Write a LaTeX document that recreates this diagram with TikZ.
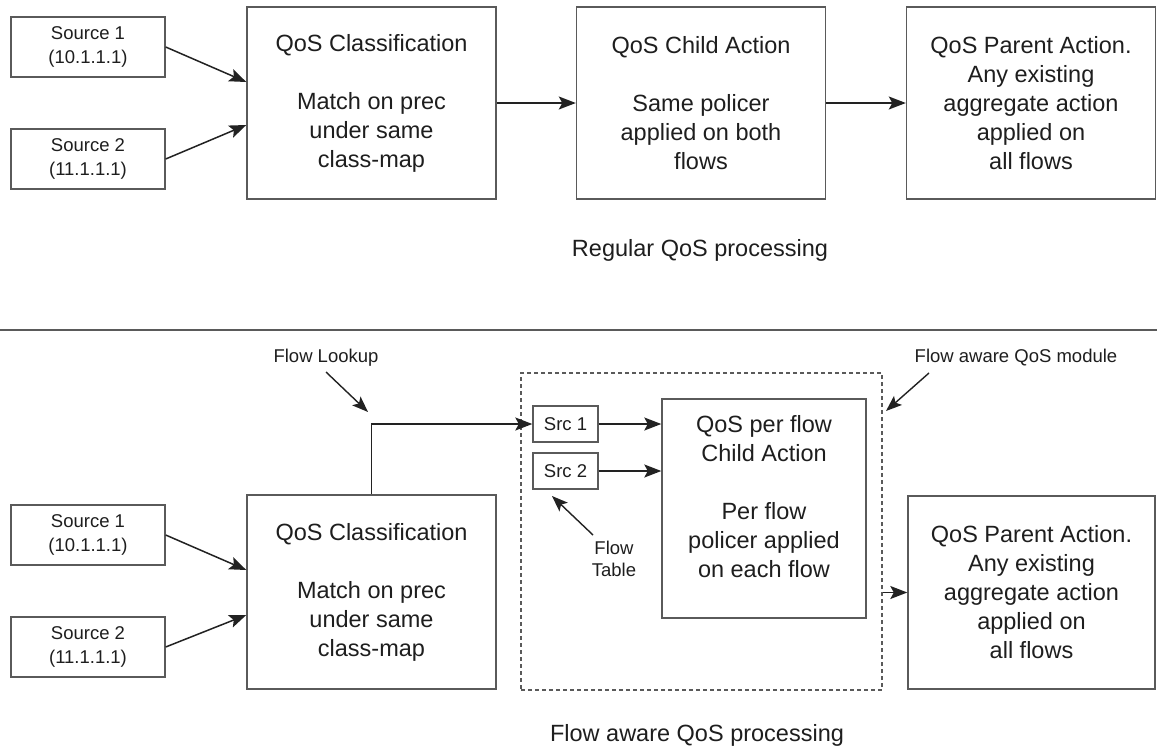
\documentclass[tikz,border=0pt]{standalone}
\usepackage{fontspec}
\setmainfont{Liberation Sans}
\usetikzlibrary{arrows.meta}
\definecolor{boxc}{HTML}{5A5A5A}
\definecolor{txt}{HTML}{1E1E1E}
\definecolor{arrc}{HTML}{222222}
\newcommand\bigf{\fontsize{23.5}{29}\selectfont}
\newcommand\smallf{\fontsize{18.5}{23.5}\selectfont}
\begin{document}
\begin{tikzpicture}[x=1pt,y=-1pt,
  box/.style={draw=boxc, line width=1.4pt, rectangle, inner sep=0pt, align=center, font=\bigf, text=txt},
  srcbox/.style={box, font=\smallf, minimum width=154pt, minimum height=60pt},
  bigbox/.style={box, minimum width=249pt, minimum height=192pt},
  flowbox/.style={box, font=\smallf, minimum width=65pt, minimum height=36pt},
  lbl/.style={font=\smallf, text=txt, align=center, inner sep=0pt},
  caption/.style={font=\bigf, text=txt, inner sep=0pt},
  arr/.style={draw=arrc, line width=1.5pt, -{Stealth[length=17pt,width=13pt,inset=3.5pt]}},
  thin arr/.style={draw=arrc, line width=1.4pt, -{Stealth[length=16pt,width=12pt,inset=3.5pt]}},
  dashbox/.style={draw=boxc, line width=1.1pt, dash pattern=on 4pt off 3pt, rectangle, inner sep=0pt}]
\useasboundingbox (0,0) rectangle (1157,750);
\fill[white] (0,0) rectangle (1157,750);

% ---------- top: regular QoS processing ----------
\node[srcbox] (s1) at (88,47) {Source 1\\(10.1.1.1)};
\node[srcbox] (s2) at (88,159) {Source 2\\(11.1.1.1)};
\node[bigbox] (cls) at (371.5,103) {QoS Classification\\[29pt]Match on prec\\under same\\class-map};
\node[bigbox] (child) at (701,103) {QoS Child Action\\[29pt]Same policer\\applied on both\\flows};
\node[bigbox] (parent) at (1031,103) {QoS Parent Action.\\Any existing\\aggregate action\\applied on\\all flows};
\node[caption] (cap1) at (700,250) {Regular QoS processing};

\draw[arr] (s1.east) -- ([yshift=21pt]cls.west);
\draw[arr] (s2.east) -- ([yshift=-22pt]cls.west);
\draw[arr] (cls.east) -- (child.west);
\draw[arr] (child.east) -- (parent.west);

% separator
\draw[boxc, line width=1.2pt] (0,330) -- (1157,330);

% ---------- bottom: flow aware QoS processing ----------
\node[srcbox] (s1b) at (88,535) {Source 1\\(10.1.1.1)};
\node[srcbox] (s2b) at (88,647) {Source 2\\(11.1.1.1)};
\node[bigbox, minimum height=194pt] (clsb) at (371.5,592) {QoS Classification\\[29pt]Match on prec\\under same\\class-map};
\node[dashbox, minimum width=361pt, minimum height=317pt] (fam) at (701.5,531.5) {};
\node[flowbox] (src1) at (565.5,424) {Src 1};
\node[flowbox] (src2) at (565.5,471) {Src 2};
\node[box, minimum width=204pt, minimum height=219pt] (pf) at (764,508.5) {};
\node[box, draw=none, font=\bigf, minimum width=0pt, minimum height=0pt] (pft) at (764,497) {QoS per flow\\Child Action\\[29pt]Per flow\\policer applied\\on each flow};
\node[bigbox, minimum width=247pt, minimum height=193pt] (parentb) at (1031.5,592.5) {QoS Parent Action.\\Any existing\\aggregate action\\applied on\\all flows};

\node[lbl] (lookup) at (326,358) {Flow Lookup};
\node[lbl] (module) at (1016,358) {Flow aware QoS module};
\node[lbl, font=\fontsize{18.5}{22}\selectfont] (ftable) at (614,559) {Flow\\Table};
\node[caption] (cap2) at (697,735) {Flow aware QoS processing};

\coordinate (lookupA) at (326,372);
\coordinate (lookupB) at (368,412);
\coordinate (moduleA) at (929,373);
\coordinate (moduleB) at (886,411);
\coordinate (tableA) at (593,535);
\coordinate (tableB) at (552,496);

\draw[thin arr] (lookupA) -- (lookupB);
\draw[thin arr] (moduleA) -- (moduleB);
\draw[thin arr] (tableA) -- (tableB);

\draw[arr] (s1b.east) -- ([yshift=22pt]clsb.west);
\draw[arr] (s2b.east) -- ([yshift=-23pt]clsb.west);
\draw[arr] (clsb.north) |- (src1.west);
\draw[arr] (src1.east) -- (src1.east -| pf.west);
\draw[arr] (src2.east) -- (src2.east -| pf.west);
\draw[arr] (fam.east |- parentb.west) -- (parentb.west);
\end{tikzpicture}
\end{document}
